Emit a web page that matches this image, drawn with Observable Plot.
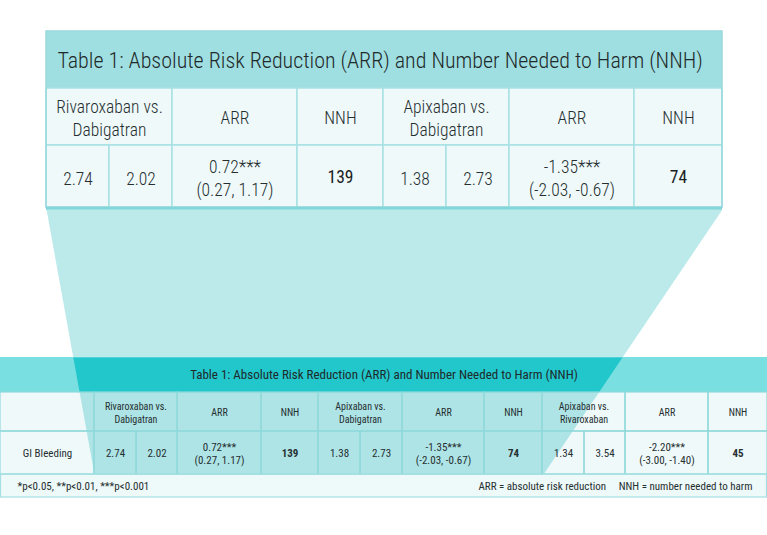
<!DOCTYPE html>
<html>
<head>
<meta charset="utf-8">
<script src="https://cdn.jsdelivr.net/npm/d3@7"></script>
<script src="https://cdn.jsdelivr.net/npm/@observablehq/plot@0.6"></script>
<style>
  html, body { margin: 0; padding: 0; background: #ffffff; }
  #chart svg { display: block; }
</style>
</head>
<body>
<div id="chart"></div>
<script>
// ---------- DATA ----------
const tableTitle = "Table 1: Absolute Risk Reduction (ARR) and Number Needed to Harm (NNH)";
const comparisons = ["Rivaroxaban vs.\nDabigatran", "Apixaban vs.\nDabigatran", "Apixaban vs.\nRivaroxaban"];
const outcome = "GI Bleeding";
const rateA = [2.74, 1.38, 1.34];
const rateB = [2.02, 2.73, 3.54];
const arrValue = [0.72, -1.35, -2.20];
const arrSig = ["***", "***", "***"];
const ciLow = [0.27, -2.03, -3.00];
const ciHigh = [1.17, -0.67, -1.40];
const nnh = [139, 74, 45];
const colHeads = ["ARR", "NNH"];
const footLeft = "*p<0.05, **p<0.01, ***p<0.001";
const footRight = "ARR = absolute risk reduction     NNH = number needed to harm";

// ---------- LAYOUT (geometry, not data) ----------
const W = 767, H = 535;
const topEdges = [46, 109, 172, 297, 383, 446, 509, 634, 722];
const topY = {title: [31, 88], head: [88, 145], data: [145, 207]};
const botEdges = [0, 94, 136, 177, 261, 318, 360, 402, 484, 542, 584, 625, 708, 767];
const botY = {title: [357, 392], head: [392, 431], data: [431, 474], foot: [474, 497]};
const trap = {top: {y: 209, x1: 46, x2: 722}, bottom: {y: 474, x1: 94, x2: 543}};

const FONT = "'Liberation Sans Narrow', 'Roboto Condensed', 'DejaVu Sans Condensed', 'Arial Narrow', sans-serif";

const f2 = v => v.toFixed(2);
const arrText = i => `${f2(arrValue[i])}${arrSig[i]}\n(${f2(ciLow[i])}, ${f2(ciHigh[i])})`;

function buildCells(edges, rows, nComp, withLabel) {
  const head = [], data = [];
  const off = withLabel ? 1 : 0;
  if (withLabel) {
    head.push({c0: 0, c1: 1, text: ""});
    data.push({c0: 0, c1: 1, text: outcome});
  }
  for (let i = 0; i < nComp; i++) {
    const b = off + 4 * i;
    head.push({c0: b, c1: b + 2, text: comparisons[i]});
    head.push({c0: b + 2, c1: b + 3, text: colHeads[0]});
    head.push({c0: b + 3, c1: b + 4, text: colHeads[1]});
    data.push({c0: b, c1: b + 1, text: f2(rateA[i])});
    data.push({c0: b + 1, c1: b + 2, text: f2(rateB[i])});
    data.push({c0: b + 2, c1: b + 3, text: arrText(i)});
    data.push({c0: b + 3, c1: b + 4, text: String(nnh[i]), bold: true});
  }
  const toRect = (c, r) => ({x1: edges[c.c0], x2: edges[c.c1], y1: r[0], y2: r[1], text: c.text, bold: !!c.bold});
  return {
    head: head.map(c => toRect(c, rows.head)),
    data: data.map(c => toRect(c, rows.data))
  };
}

const topCells = buildCells(topEdges, topY, 2, false);
const botCells = buildCells(botEdges, botY, 3, true);
const topAll = [...topCells.head, ...topCells.data];
const botAll = [...botCells.head, ...botCells.data];

// trapezoid projection pieces
const xl = y => trap.top.x1 + (trap.bottom.x1 - trap.top.x1) * (y - trap.top.y) / (trap.bottom.y - trap.top.y);
const xr = y => trap.top.x2 + (trap.bottom.x2 - trap.top.x2) * (y - trap.top.y) / (trap.bottom.y - trap.top.y);
const piece = (y0, y1) => [
  {x: xl(y0), y: y0}, {x: xr(y0), y: y0}, {x: xr(y1), y: y1}, {x: xl(y1), y: y1}
];
const pieceLight = piece(trap.top.y, botY.title[0]);
const pieceDark = piece(botY.title[0], botY.title[1]);
const pieceMid = piece(botY.title[1], trap.bottom.y);

const one = [{}];
const cx = d => (d.x1 + d.x2) / 2;
const cy = d => (d.y1 + d.y2) / 2;
const TXT = "#262f30";

const chart = Plot.plot({
  width: W, height: H,
  margin: 0,
  x: {domain: [0, W], range: [0, W], axis: null},
  y: {domain: [0, H], range: [0, H], axis: null},
  style: {background: "#ffffff", fontFamily: FONT},
  marks: [
    // ----- top (zoomed) table -----
    Plot.rect(one, {x1: topEdges[0], x2: topEdges[topEdges.length - 1], y1: topY.title[0], y2: topY.title[1], fill: "#a0dfe1"}),
    Plot.rect(topAll, {x1: "x1", x2: "x2", y1: "y1", y2: "y2", fill: "#eff9fa", stroke: "#a9e1e3", strokeWidth: 1.5}),
    Plot.rect(one, {x1: topEdges[0], x2: topEdges[topEdges.length - 1], y1: topY.title[0], y2: topY.data[1], fill: "none", stroke: "#9ad9dc", strokeWidth: 1.5}),
    Plot.rect(one, {x1: topEdges[0], x2: topEdges[topEdges.length - 1], y1: topY.data[1], y2: trap.top.y + 1, fill: "#80d6d9"}),
    // light projection over white
    Plot.line(pieceLight, {x: "x", y: "y", curve: "linear-closed", fill: "#bceaeb", stroke: "none"}),
    // ----- bottom (full) table -----
    Plot.rect(one, {x1: 0, x2: W, y1: botY.title[0], y2: botY.title[1], fill: "#7adfe1"}),
    Plot.rect(botAll, {x1: "x1", x2: "x2", y1: "y1", y2: "y2", fill: "#eff9fa"}),
    Plot.rect(one, {x1: 0, x2: W, y1: botY.foot[0], y2: botY.foot[1], fill: "#eef9f9"}),
    // projection overlay inside bottom table
    Plot.line(pieceDark, {x: "x", y: "y", curve: "linear-closed", fill: "#22c7cc", stroke: "none"}),
    Plot.line(pieceMid, {x: "x", y: "y", curve: "linear-closed", fill: "#aee4e6", stroke: "none"}),
    // borders
    Plot.rect(botAll, {x1: "x1", x2: "x2", y1: "y1", y2: "y2", fill: "none", stroke: "#8fd9db", strokeWidth: 1.2}),
    Plot.rect(one, {x1: 0.5, x2: W - 0.5, y1: botY.foot[0], y2: botY.foot[1], fill: "none", stroke: "#a4dfe1", strokeWidth: 1.2}),
    // ----- texts: top -----
    Plot.text(one, {x: topEdges[0] + 11, y: (topY.title[0] + topY.title[1]) / 2 + 1, text: () => tableTitle, textAnchor: "start", fontSize: 22, fontWeight: 300, fill: "#1e2a2b"}),
    Plot.text(topCells.head, {x: cx, y: cy, text: "text", fontSize: 17.5, fontWeight: 300, lineHeight: 1.3, fill: TXT}),
    Plot.text(topCells.data.filter(d => !d.bold), {x: cx, y: d => cy(d) + 1, text: "text", fontSize: 17.5, fontWeight: 300, lineHeight: 1.3, fill: TXT}),
    Plot.text(topCells.data.filter(d => d.bold), {x: cx, y: d => cy(d) + 1, text: "text", fontSize: 17.5, fontWeight: 400, fill: "#1a2122"}),
    // ----- texts: bottom -----
    Plot.text(one, {x: W / 2, y: (botY.title[0] + botY.title[1]) / 2, text: () => tableTitle, fontSize: 13, fontWeight: 400, fill: "#1e2a2b"}),
    Plot.text(botCells.head, {x: cx, y: cy, text: "text", fontSize: 10, fontWeight: 400, lineHeight: 1.35, fill: TXT}),
    Plot.text(botCells.data.filter(d => !d.bold), {x: cx, y: cy, text: "text", fontSize: 11, fontWeight: 400, lineHeight: 1.2, fill: TXT}),
    Plot.text(botCells.data.filter(d => d.bold), {x: cx, y: cy, text: "text", fontSize: 11, fontWeight: "bold", fill: TXT}),
    Plot.text(one, {x: 17, y: (botY.foot[0] + botY.foot[1]) / 2, text: () => footLeft, textAnchor: "start", fontSize: 11, fontWeight: 400, fill: TXT}),
    Plot.text(one, {x: 752, y: (botY.foot[0] + botY.foot[1]) / 2, text: () => footRight, textAnchor: "end", fontSize: 11, fontWeight: 400, fill: TXT})
  ]
});

document.getElementById("chart").appendChild(chart);
</script>
</body>
</html>
